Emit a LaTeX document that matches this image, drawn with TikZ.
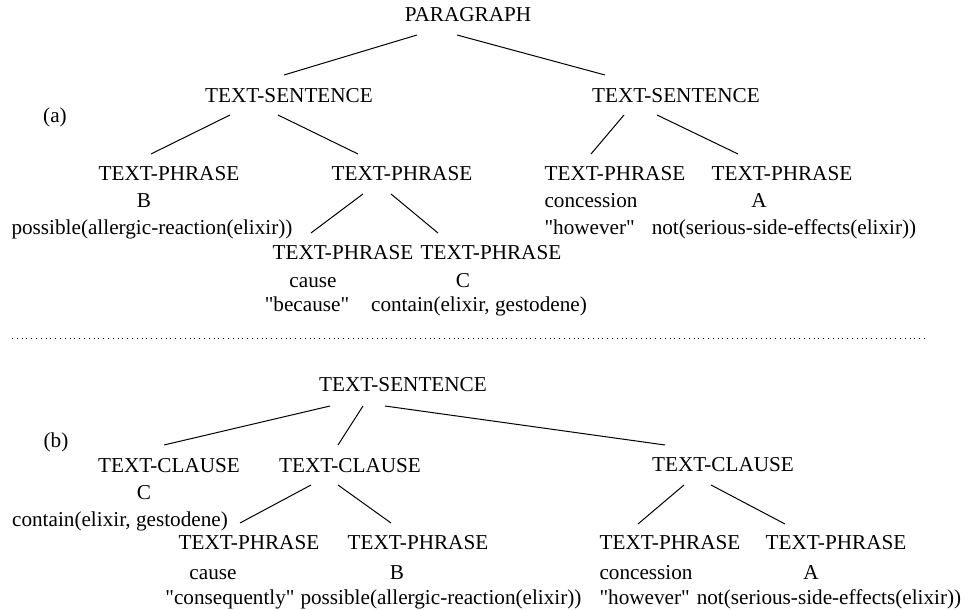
\documentclass[tikz,border=0pt]{standalone}
\usepackage{fontspec}
\setmainfont{Liberation Serif}
\usetikzlibrary{calc}

\begin{document}
\begin{tikzpicture}[x = 0.5pt, y = -0.5pt, font=\fontsize{10.6}{12}\selectfont, line width = 0.5pt]
\tikzstyle{treeStyle} = [inner sep = 0pt, anchor = base]
\tikzstyle{infoStyle} = [inner sep = 0pt, anchor = base]
\tikzstyle{leftStyle} = [inner sep = 0pt, anchor = base west]
\useasboundingbox (0,0) rectangle (966,610);
% (a)
\node[infoStyle] (la) at (55,123) {(a)};
\node[treeStyle] (v0) at (468,22) {PARAGRAPH};
\node[treeStyle] (v1) at (289,103) {TEXT-SENTENCE};
\node[treeStyle] (v2) at (676,103) {TEXT-SENTENCE};
\node[treeStyle] (v3) at (169,181) {TEXT-PHRASE};
\node[infoStyle] (v3b) at (144,208) {B};
\node[infoStyle] (v3c) at (152,235) {possible(allergic-reaction(elixir))};
\node[treeStyle] (v4) at (402,181) {TEXT-PHRASE};
\node[treeStyle] (v5) at (343,260) {TEXT-PHRASE};
\node[infoStyle] (v5b) at (313,288) {cause};
\node[infoStyle] (v5c) at (307,312) {\textquotedbl because\textquotedbl};
\node[treeStyle] (v6) at (491,260) {TEXT-PHRASE};
\node[infoStyle] (v6b) at (463,288) {C};
\node[infoStyle] (v6c) at (479,312) {contain(elixir, gestodene)};
\node[treeStyle] (v7) at (615,181) {TEXT-PHRASE};
\node[leftStyle] (v7b) at (544,208) {concession};
\node[leftStyle] (v7c) at (544,235) {\textquotedbl however\textquotedbl};
\node[treeStyle] (v8) at (782,181) {TEXT-PHRASE};
\node[infoStyle] (v8b) at (759,208) {A};
\node[infoStyle] (v8c) at (784,235) {not(serious-side-effects(elixir))};
\draw ($(v0.base)+(-51,13)$) -- ($(v1.base)+(-5,-28)$);
\draw ($(v0.base)+(-11,13)$) -- ($(v2.base)+(-71,-28)$);
\draw ($(v1.base)+(-59,12)$) -- ($(v3.base)+(-18,-27)$);
\draw ($(v1.base)+(-11,12)$) -- ($(v4.base)+(-44,-27)$);
\draw ($(v2.base)+(-52,12)$) -- ($(v7.base)+(-24,-27)$);
\draw ($(v2.base)+(-19,12)$) -- ($(v8.base)+(-44,-27)$);
\draw ($(v4.base)+(-39,13)$) -- ($(v5.base)+(-32,-27)$);
\draw ($(v4.base)+(-11,13)$) -- ($(v6.base)+(-53,-27)$);
% separator
\draw[dotted, line width = 0.4pt] (12,338) -- (925,338);
% (b)
\node[infoStyle] (lb) at (56,448) {(b)};
\node[treeStyle] (w0) at (403,392) {TEXT-SENTENCE};
\node[treeStyle] (w1) at (169,473) {TEXT-CLAUSE};
\node[infoStyle] (w1b) at (144,500) {C};
\node[infoStyle] (w1c) at (120,527) {contain(elixir, gestodene)};
\node[treeStyle] (w2) at (350,473) {TEXT-CLAUSE};
\node[treeStyle] (w3) at (723,472) {TEXT-CLAUSE};
\node[treeStyle] (w4) at (249,550) {TEXT-PHRASE};
\node[infoStyle] (w4b) at (213,580) {cause};
\node[infoStyle] (w4c) at (230,604) {\textquotedbl consequently\textquotedbl};
\node[treeStyle] (w5) at (418,550) {TEXT-PHRASE};
\node[infoStyle] (w5b) at (397,580) {B};
\node[infoStyle] (w5c) at (441,604) {possible(allergic-reaction(elixir))};
\node[treeStyle] (w6) at (670,550) {TEXT-PHRASE};
\node[leftStyle] (w6b) at (599,580) {concession};
\node[leftStyle] (w6c) at (599,604) {\textquotedbl however\textquotedbl};
\node[treeStyle] (w7) at (836,550) {TEXT-PHRASE};
\node[infoStyle] (w7b) at (811,580) {A};
\node[infoStyle] (w7c) at (829,604) {not(serious-side-effects(elixir))};
\draw ($(w0.base)+(-73,14)$) -- ($(w1.base)+(-5,-28)$);
\draw ($(w0.base)+(-40,14)$) -- ($(w2.base)+(-12,-28)$);
\draw ($(w0.base)+(-18,14)$) -- ($(w3.base)+(-58,-27)$);
\draw ($(w2.base)+(-39,12)$) -- ($(w4.base)+(-9,-27)$);
\draw ($(w2.base)+(-12,12)$) -- ($(w5.base)+(-27,-27)$);
\draw ($(w3.base)+(-39,13)$) -- ($(w6.base)+(-32,-26)$);
\draw ($(w3.base)+(-12,13)$) -- ($(w7.base)+(-51,-26)$);
\end{tikzpicture}
\end{document}
